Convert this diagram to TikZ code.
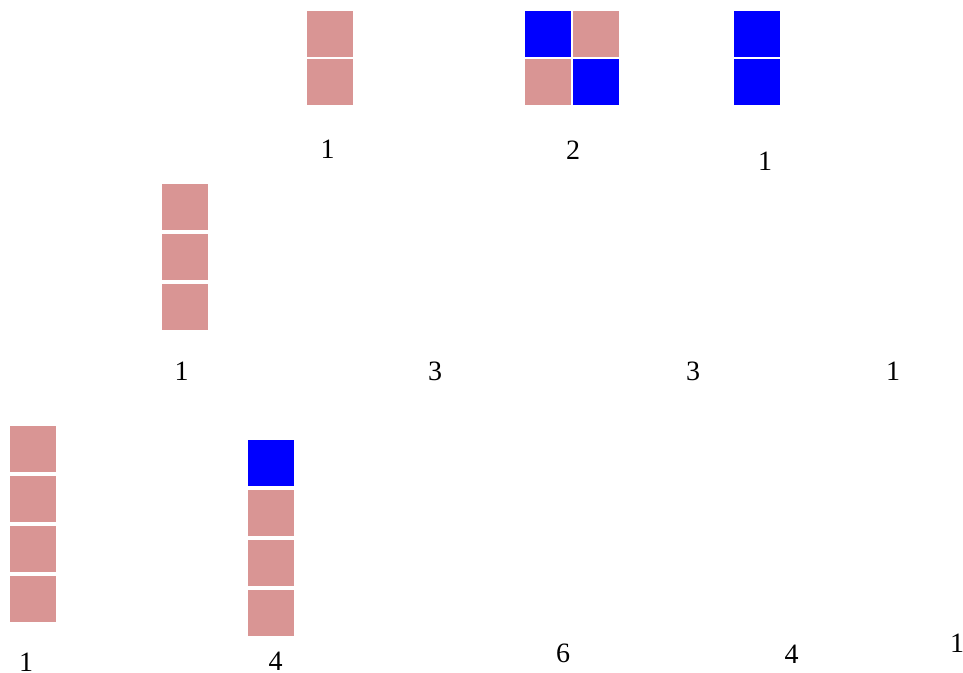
\documentclass[tikz,border=0pt]{standalone}
\usepackage{fontspec}
\setmainfont{Liberation Serif}
\definecolor{pinkc}{RGB}{217,149,148}
\definecolor{bluec}{RGB}{0,0,255}
\begin{document}
\begin{tikzpicture}[x=1pt,y=-1pt,
  cell/.style={minimum size=46pt,inner sep=0pt,outer sep=0pt,draw=none},
  pk/.style={cell,fill=pinkc},
  bl/.style={cell,fill=bluec},
  lab/.style={font=\fontsize{28}{30}\selectfont,inner sep=0pt}]
\useasboundingbox (0,0) rectangle (963,672);
% top row
\node[pk] (a1) at (330,34) {};
\node[pk] (a2) at (330,82) {};
\node[lab] (la) at (327.5,149) {1};
\node[bl] (b1) at (548,34) {};
\node[pk] (b2) at (596,34) {};
\node[pk] (b3) at (548,82) {};
\node[bl] (b4) at (596,82) {};
\node[lab] (lb) at (573,150) {2};
\node[bl] (c1) at (757,34) {};
\node[bl] (c2) at (757,82) {};
\node[lab] (lc) at (765,161.5) {1};
% middle row
\node[pk] (d1) at (185,207) {};
\node[pk] (d2) at (185,257) {};
\node[pk] (d3) at (185,307) {};
\node[lab] (ld) at (181.5,371) {1};
\node[lab] (le) at (435,371) {3};
\node[lab] (lf) at (693,371) {3};
\node[lab] (lg) at (893,371) {1};
% bottom row
\node[pk] (e1) at (33,449) {};
\node[pk] (e2) at (33,499) {};
\node[pk] (e3) at (33,549) {};
\node[pk] (e4) at (33,599) {};
\node[lab] (lh) at (26,662) {1};
\node[bl] (f1) at (271,463) {};
\node[pk] (f2) at (271,513) {};
\node[pk] (f3) at (271,563) {};
\node[pk] (f4) at (271,613) {};
\node[lab] (li) at (275.5,661) {4};
\node[lab] (lj) at (563,653) {6};
\node[lab] (lk) at (791.5,654) {4};
\node[lab] (ll) at (957,643) {1};
\end{tikzpicture}
\end{document}
